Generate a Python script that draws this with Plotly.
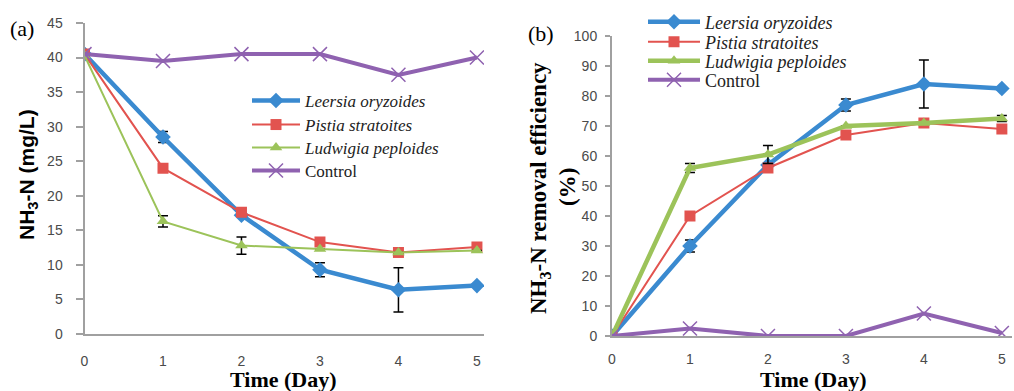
import plotly.graph_objects as go

days = [0, 1, 2, 3, 4, 5]
series_names = ["<i>Leersia oryzoides</i>", "<i>Pistia stratoites</i>", "<i>Ludwigia peploides</i>", "Control"]

# Panel (a): NH3-N concentration (mg/L)
a_leersia = [40.5, 28.5, 17.2, 9.3, 6.4, 7.0]
a_pistia = [40.5, 24.0, 17.6, 13.3, 11.8, 12.6]
a_ludwigia = [40.3, 16.3, 12.8, 12.3, 11.8, 12.1]
a_control = [40.5, 39.5, 40.5, 40.5, 37.5, 40.0]
a_err_leersia = [0, 0.8, 0, 1.0, 3.2, 0]
a_err_ludwigia = [0, 0.8, 1.25, 0, 0, 0]

# Panel (b): removal efficiency (%)
b_leersia = [0, 30, 57, 77, 84, 82.5]
b_pistia = [0, 40, 56, 67, 71, 69]
b_ludwigia = [0, 56, 60.5, 70, 71, 72.5]
b_control = [0, 2.5, 0, 0, 7.5, 1]
b_err_leersia = [0, 2, 0, 2, 8, 0]
b_err_ludwigia = [0, 1.5, 3, 0, 0, 1]

BLUE = "#3a8ad0"
RED = "#e2534f"
GREEN = "#9cc35a"
PURPLE = "#8f62b0"

W, H = 1014, 391

fig = go.Figure()

def add(x, y, name, color, width, symbol, msize, xa, ya, legend, err=None):
    marker = dict(symbol=symbol, size=msize, color=color)
    if symbol == "x-thin":
        marker["line"] = dict(color=color, width=1.5)
    tr = go.Scatter(x=x, y=y, name=name, mode="lines+markers",
                    line=dict(color=color, width=width), marker=marker,
                    xaxis=xa, yaxis=ya, legend=legend)
    if err is not None:
        tr.error_y = dict(type="data", array=err, visible=True, color="black", thickness=1.5, width=5)
    fig.add_trace(tr)

# panel a
add(days, a_leersia, series_names[0], BLUE, 4.5, "diamond", 12, "x", "y", "legend", a_err_leersia)
add(days, a_pistia, series_names[1], RED, 2, "square", 11, "x", "y", "legend2")
add(days, a_ludwigia, series_names[2], GREEN, 2, "triangle-up", 11, "x", "y", "legend3", a_err_ludwigia)
add(days, a_control, series_names[3], PURPLE, 4, "x-thin", 14, "x", "y", "legend4")
# panel b
add(days, b_leersia, series_names[0], BLUE, 4.5, "diamond", 12, "x2", "y2", "legend5", b_err_leersia)
add(days, b_pistia, series_names[1], RED, 2, "square", 11, "x2", "y2", "legend6")
add(days, b_ludwigia, series_names[2], GREEN, 4.5, "triangle-up", 11, "x2", "y2", "legend7", b_err_ludwigia)
add(days, b_control, series_names[3], PURPLE, 4, "x-thin", 14, "x2", "y2", "legend8")

tickfont = dict(family="Liberation Sans, Arial", size=14, color="#4a4a4a")
axline = dict(showline=True, linecolor="#a0a0a0", linewidth=2, showgrid=False, zeroline=False,
              tickfont=tickfont, ticklabeloverflow="allow", automargin=False)

def px_x(p):
    return p / W

def px_y(p):
    return 1 - p / H

legfont_a = dict(family="Liberation Serif, Times New Roman", size=17, color="#222")
legfont_b = dict(family="Liberation Serif, Times New Roman", size=18, color="#222")

def leg(xp, yp, font, iw):
    return dict(x=px_x(xp), y=px_y(yp), xanchor="left", yanchor="middle", bgcolor="rgba(0,0,0,0)",
                font=font, itemwidth=iw)

rows_a = [101, 125, 148, 171]
rows_b = [22, 42, 61, 80]

fig.update_layout(
    width=W, height=H,
    margin=dict(l=0, r=0, t=0, b=0, pad=0, autoexpand=False),
    paper_bgcolor="white", plot_bgcolor="white",
    xaxis=dict(domain=[px_x(84.5), px_x(484)], range=[0, 5.09], anchor="y", tickvals=days,
               ticks="", ticklabelstandoff=13, **axline),
    yaxis=dict(domain=[px_y(334), px_y(23)], range=[0, 45], anchor="x", dtick=5,
               ticks="outside", ticklen=7, tickcolor="#a0a0a0", tickwidth=1.5, ticklabelstandoff=10, **axline),
    xaxis2=dict(domain=[px_x(612), px_x(1012)], range=[0, 5.13], anchor="y2", tickvals=days,
                ticks="", ticklabelstandoff=9, **axline),
    yaxis2=dict(domain=[px_y(336), px_y(36)], range=[0, 100], anchor="x2", dtick=10,
                ticks="outside", ticklen=5, tickcolor="#a0a0a0", tickwidth=1.5, ticklabelstandoff=5, **axline),
    legend=leg(247, rows_a[0], legfont_a, 48),
    legend2=leg(247, rows_a[1], legfont_a, 48),
    legend3=leg(247, rows_a[2], legfont_a, 48),
    legend4=leg(247, rows_a[3], legfont_a, 48),
    legend5=leg(643, rows_b[0], legfont_b, 52),
    legend6=leg(643, rows_b[1], legfont_b, 52),
    legend7=leg(643, rows_b[2], legfont_b, 52),
    legend8=leg(643, rows_b[3], legfont_b, 52),
    showlegend=True,
)

serif_bold = dict(family="Liberation Serif, Times New Roman", size=22, color="black")
annos = [
    dict(text="<b>Time (Day)</b>", x=px_x(283), y=px_y(379), font=serif_bold),
    dict(text="<b>Time (Day)</b>", x=px_x(813), y=px_y(379), font=serif_bold),
    dict(text="<b>NH<sub>3</sub>-N (mg/L)</b>", x=px_x(28), y=px_y(175), textangle=-90,
         font=dict(family="Liberation Sans, Arial", size=21, color="black")),
    dict(text="<b>NH<sub>3</sub>-N removal efficiency</b>", x=px_x(540), y=px_y(188), textangle=-90,
         font=dict(family="Liberation Serif, Times New Roman", size=23, color="black")),
    dict(text="<b>(%)</b>", x=px_x(567), y=px_y(187), textangle=-90,
         font=dict(family="Liberation Serif, Times New Roman", size=23, color="black")),
    dict(text="(a)", x=px_x(22), y=px_y(28), font=dict(family="Liberation Serif, Times New Roman", size=22, color="black")),
    dict(text="(b)", x=px_x(541), y=px_y(34), font=dict(family="Liberation Serif, Times New Roman", size=22, color="black")),
]
for a in annos:
    fig.add_annotation(xref="paper", yref="paper", showarrow=False, xanchor="center", yanchor="middle", **a)

fig.write_html("out.html", config={"displayModeBar": False},
               post_script="document.body.style.margin='0';document.body.style.overflow='hidden';")
